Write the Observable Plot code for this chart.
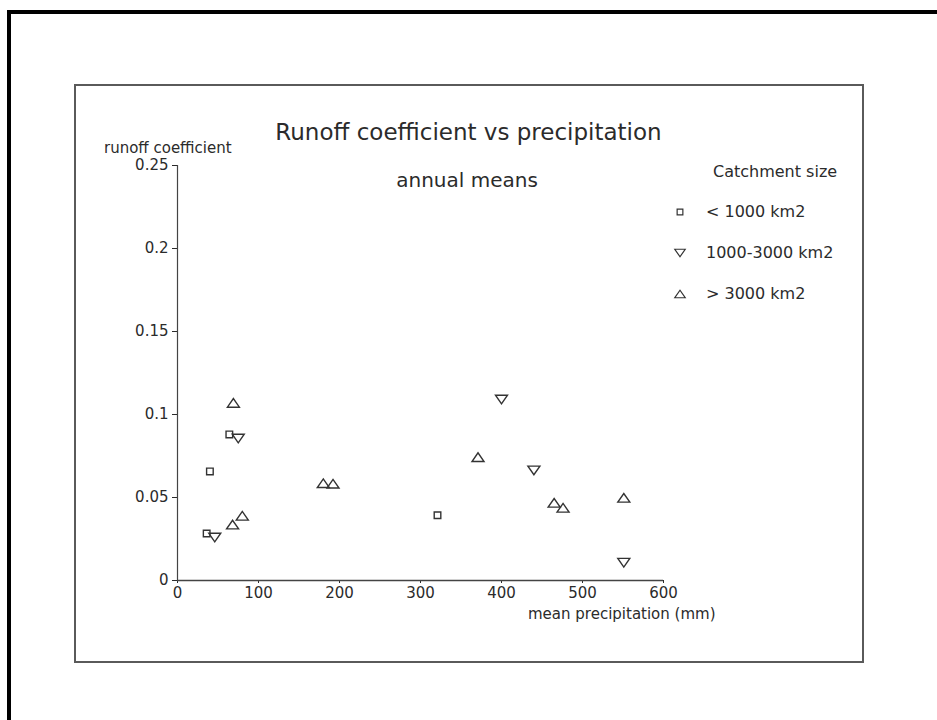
<!DOCTYPE html>
<html>
<head>
<meta charset="utf-8">
<script src="https://cdn.jsdelivr.net/npm/d3@7"></script>
<script src="https://cdn.jsdelivr.net/npm/@observablehq/plot@0.6"></script>
<style>
  html, body { margin: 0; padding: 0; background: #fff; }
  #root { position: relative; width: 937px; height: 720px; overflow: hidden; font-family: "DejaVu Sans", sans-serif; color: #333; }
  .outer { position: absolute; left: 7px; top: 10px; width: 1000px; height: 800px; border-left: 4px solid #000; border-top: 4px solid #000; }
  .frame { position: absolute; left: 74px; top: 84px; width: 790px; height: 579px; box-sizing: border-box; border: 2.5px solid #5a5a5a; }
  .t { position: absolute; line-height: 1; white-space: nowrap; color: #2b2b2b; }
  #chart { position: absolute; left: 0; top: 0; }
  #legend { position: absolute; left: 672px; top: 191px; }
  #legend, #legend * { font-family: "DejaVu Sans", sans-serif !important; font-size: 16px !important; color: #2b2b2b; }
  #legend > div { margin: 0 !important; }
  #legend .lg-swatch { height: 41px; padding: 0 !important; }
  #legend .lg-swatch svg { margin-right: 18px !important; overflow: visible; }
</style>
</head>
<body>
<div id="root">
  <div class="outer"></div>
  <div class="frame"></div>
  <div id="chart"></div>
  <div class="t" id="title" style="left:0;width:937px;text-align:center;top:121px;font-size:23px;"></div>
  <div class="t" id="subtitle" style="left:0;width:934px;text-align:center;top:170px;font-size:20px;"></div>
  <div class="t" id="ylabel" style="left:104px;top:141px;font-size:15px;"></div>
  <div class="t" id="legtitle" style="left:713px;top:164px;font-size:16px;"></div>
  <div class="t" id="xlabel" style="left:528px;top:607px;font-size:15px;"></div>
  <div id="legend"></div>
</div>
<script>
// ---- text ----
const titleText = "Runoff coefficient vs precipitation";
const subtitleText = "annual means";
const yLabelText = "runoff coefficient";
const xLabelText = "mean precipitation (mm)";
const legendTitle = "Catchment size";

// ---- categories ----
const categories = ["< 1000 km2", "1000-3000 km2", "> 3000 km2"];

// ---- series: catchment < 1000 km2 ----
const smallPrecip = [36, 40, 64, 321];
const smallCoef   = [0.0283, 0.0657, 0.088, 0.0393];

// ---- series: catchment 1000-3000 km2 ----
const mediumPrecip = [46, 75, 400, 440, 551];
const mediumCoef   = [0.0259, 0.0855, 0.109, 0.0663, 0.0107];

// ---- series: catchment > 3000 km2 ----
const largePrecip = [68, 69, 80, 180, 192, 371, 465, 476, 551];
const largeCoef   = [0.0337, 0.107, 0.039, 0.0586, 0.0583, 0.0743, 0.0468, 0.0438, 0.0498];

// ---- ticks ----
const xTicks = [0, 100, 200, 300, 400, 500, 600];
const yTicks = [0, 0.05, 0.1, 0.15, 0.2, 0.25];
const yTickLabels = ["0", "0.05", "0.1", "0.15", "0.2", "0.25"];

// build table
const rows = [];
[[smallPrecip, smallCoef], [mediumPrecip, mediumCoef], [largePrecip, largeCoef]].forEach(([xs, ys], k) => {
  xs.forEach((x, i) => rows.push({precip: x, coef: ys[i], group: categories[k]}));
});

// custom marker shapes (open square, down triangle, up triangle)
const symSquare = {draw(ctx, size) { const r = Math.sqrt(size / Math.PI); const s = r * 0.55; ctx.moveTo(-s, -s); ctx.lineTo(s, -s); ctx.lineTo(s, s); ctx.lineTo(-s, s); ctx.closePath(); }};
const symDown = {draw(ctx, size) { const r = Math.sqrt(size / Math.PI); const h = r * 0.72; ctx.moveTo(-r, -h); ctx.lineTo(r, -h); ctx.lineTo(0, h); ctx.closePath(); }};
const symUp = {draw(ctx, size) { const r = Math.sqrt(size / Math.PI); const h = r * 0.72; ctx.moveTo(-r, h); ctx.lineTo(r, h); ctx.lineTo(0, -h); ctx.closePath(); }};

const chart = Plot.plot({
  width: 937,
  height: 720,
  marginLeft: 177,
  marginRight: 274,
  marginTop: 165,
  marginBottom: 140,
  style: {fontFamily: "DejaVu Sans, sans-serif", fontSize: "15px", color: "#2b2b2b", background: "transparent", overflow: "visible"},
  x: {domain: [0, 600], ticks: xTicks, tickSize: 3, tickPadding: 4, label: null},
  y: {domain: [0, 0.25], ticks: yTicks, tickSize: 5, tickPadding: 4, label: null,
      tickFormat: (d) => yTickLabels[yTicks.indexOf(d)]},
  symbol: {domain: categories, range: [symSquare, symDown, symUp]},
  marks: [
    Plot.ruleX([0], {stroke: "#444", strokeWidth: 1.2}),
    Plot.ruleY([0], {stroke: "#444", strokeWidth: 1.5}),
    Plot.dot(rows, {x: "precip", y: "coef", symbol: "group", r: 6, fill: "none", stroke: "#333", strokeWidth: 1.4})
  ]
});
document.getElementById("chart").appendChild(chart);

const leg = chart.legend("symbol", {columns: 1, className: "lg", swatchSize: 16, r: 5.2, stroke: "#333", fill: "none", strokeWidth: 1.2});
document.getElementById("legend").appendChild(leg);

document.getElementById("title").textContent = titleText;
document.getElementById("subtitle").textContent = subtitleText;
document.getElementById("ylabel").textContent = yLabelText;
document.getElementById("xlabel").textContent = xLabelText;
document.getElementById("legtitle").textContent = legendTitle;
</script>
</body>
</html>
